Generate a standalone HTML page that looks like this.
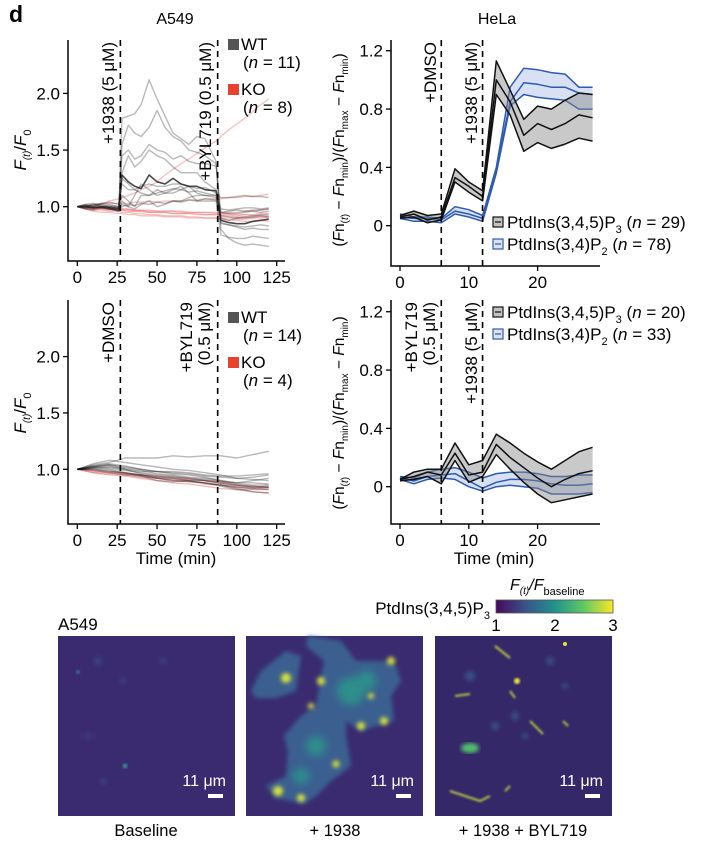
<!DOCTYPE html>
<html><head><meta charset="utf-8">
<style>
body{margin:0;background:#fff;}
svg{display:block;font-family:"Liberation Sans",Arial,sans-serif;}
</style></head>
<body>
<svg id="fig" width="702" height="842" viewBox="0 0 702 842" xmlns="http://www.w3.org/2000/svg">
<defs>
<linearGradient id="viridis" x1="0" x2="1" y1="0" y2="0">
<stop offset="0" stop-color="#46085c"/><stop offset="0.25" stop-color="#3b528b"/><stop offset="0.5" stop-color="#21918c"/><stop offset="0.75" stop-color="#5ec962"/><stop offset="1" stop-color="#fde725"/>
</linearGradient>
<filter id="blur2"><feGaussianBlur stdDeviation="2"/></filter>
<filter id="blur4"><feGaussianBlur stdDeviation="4"/></filter>
<filter id="blur1"><feGaussianBlur stdDeviation="1"/></filter>
</defs>
<text x="9" y="22" font-size="23" font-weight="bold">d</text>
<text x="175" y="24" font-size="16" text-anchor="middle">A549</text>
<text x="497" y="24" font-size="16" text-anchor="middle">HeLa</text>
<g id="charts"></g>

<text x="58" y="630" font-size="17">A549</text>
<text x="490" y="614" font-size="17" text-anchor="end">PtdIns(3,4,5)P<tspan font-size="11" dy="5">3</tspan></text>
<text x="510" y="590" font-size="16" font-style="italic">F<tspan font-size="10" dy="4" font-style="italic">(t)</tspan><tspan dy="-4">/</tspan>F<tspan font-size="11" dy="5" font-style="normal">baseline</tspan></text>
<rect x="496" y="600" width="117" height="13" fill="url(#viridis)" stroke="#555" stroke-width="0.8"/>
<text x="496" y="631" font-size="17" text-anchor="middle">1</text>
<text x="555" y="631" font-size="17" text-anchor="middle">2</text>
<text x="613" y="631" font-size="17" text-anchor="middle">3</text>

<g transform="translate(58,636)">
<rect width="177" height="180" fill="#3a2b70"/>
<g filter="url(#blur2)" fill="#3d4f8c" opacity="0.7">
<circle cx="40" cy="25" r="4"/><circle cx="105" cy="25" r="3"/><circle cx="65" cy="45" r="3"/><circle cx="30" cy="100" r="3"/><circle cx="45" cy="145" r="3"/>
</g>
<circle cx="67" cy="130" r="2.5" fill="#2f8f8c" filter="url(#blur1)"/>
<circle cx="20" cy="36" r="2" fill="#3b6e92" filter="url(#blur1)"/>
<text x="168" y="150" font-size="16" fill="#fff" text-anchor="end">11 μm</text>
<rect x="150" y="158" width="15" height="4" fill="#fff"/>
</g>
<text x="146" y="836" font-size="16.5" text-anchor="middle">Baseline</text>

<g transform="translate(246,636)">
<rect width="177" height="180" fill="#3a2b70"/>
<g filter="url(#blur2)">
<polygon fill="#3a6090" points="62,0 95,5 110,25 140,25 150,30 155,45 145,60 148,85 130,90 115,95 100,85 100,100 105,130 85,145 70,160 58,168 30,162 20,150 40,140 42,115 38,100 55,80 70,70 75,40 78,25 60,10"/>
<polygon fill="#3a6090" points="5,55 15,35 40,15 55,20 50,55 30,62 10,62"/>
</g>
<g filter="url(#blur4)" fill="#2a9a8a" opacity="0.8">
<circle cx="105" cy="55" r="14"/><circle cx="120" cy="45" r="10"/><circle cx="70" cy="110" r="10"/><circle cx="55" cy="140" r="8"/>
</g>
<g filter="url(#blur2)" fill="#d8e33a">
<circle cx="40" cy="42" r="5"/><circle cx="75" cy="45" r="4"/><circle cx="145" cy="25" r="4"/><circle cx="138" cy="85" r="4"/><circle cx="115" cy="90" r="4"/><circle cx="90" cy="128" r="3.5"/><circle cx="32" cy="155" r="5"/><circle cx="55" cy="162" r="4"/><circle cx="125" cy="60" r="3"/><circle cx="65" cy="70" r="3"/>
</g>
<text x="168" y="150" font-size="16" fill="#fff" text-anchor="end">11 μm</text>
<rect x="150" y="158" width="15" height="4" fill="#fff"/>
</g>
<text x="335" y="836" font-size="16.5" text-anchor="middle">+ 1938</text>

<g transform="translate(435,636)">
<rect width="177" height="180" fill="#352868"/>
<g filter="url(#blur2)" fill="#3b5a8e" opacity="0.8">
<circle cx="35" cy="40" r="5"/><circle cx="80" cy="80" r="4"/><circle cx="115" cy="25" r="4"/><circle cx="60" cy="90" r="4"/><circle cx="90" cy="100" r="3"/><circle cx="130" cy="50" r="3"/>
</g>
<g filter="url(#blur1)" stroke="#c8dc3a" stroke-width="1.8" fill="none">
<path d="M60,10 L75,22"/><path d="M20,60 L35,58"/><path d="M95,85 L108,98"/><path d="M15,155 L45,165 L55,160"/><path d="M70,155 L75,150"/><path d="M128,85 L133,90"/><path d="M75,55 L80,62"/>
</g>
<circle cx="82" cy="45" r="3" fill="#e8e436" filter="url(#blur1)"/>
<circle cx="130" cy="8" r="2" fill="#e8e436"/>
<ellipse cx="35" cy="112" rx="9" ry="5" fill="#4fbf6a" filter="url(#blur2)"/>
<text x="168" y="150" font-size="16" fill="#fff" text-anchor="end">11 μm</text>
<rect x="150" y="158" width="15" height="4" fill="#fff"/>
</g>
<text x="523" y="836" font-size="16.5" text-anchor="middle">+ 1938 + BYL719</text>
</svg>

<script>
const a549TopTimes = [0,5,10,15,20,26,28,32,36,40,45,50,55,60,65,70,75,80,87,90,95,100,105,110,115,120];
const a549TopWT = [
[1.0,1.01,0.99,1.0,0.98,0.97,1.78,1.8,1.82,1.9,2.12,1.95,1.8,1.65,1.6,1.55,1.62,1.6,1.4,0.8,0.72,0.68,0.66,0.67,0.66,0.65],
[1.0,1.02,1.03,1.01,1.0,0.99,1.55,1.72,1.65,1.62,1.7,1.85,1.7,1.62,1.58,1.5,1.48,1.45,1.38,0.86,0.84,0.83,0.82,0.83,0.84,0.83],
[1.0,1.0,1.02,1.03,1.02,1.0,1.45,1.5,1.42,1.45,1.55,1.5,1.48,1.42,1.45,1.4,1.38,1.38,1.36,0.95,0.96,0.97,0.96,0.97,0.97,0.98],
[1.0,0.99,0.98,1.0,0.99,0.96,1.3,1.45,1.35,1.4,1.5,1.45,1.42,1.35,1.3,1.3,1.3,1.22,1.15,0.9,0.88,0.9,0.91,0.92,0.93,0.93],
[1.0,1.02,1.01,1.03,1.04,1.02,1.2,1.15,1.15,1.18,1.2,1.18,1.18,1.2,1.2,1.18,1.16,1.17,1.12,1.08,1.08,1.09,1.1,1.09,1.09,1.08],
[1.0,1.01,1.0,0.99,1.0,0.99,1.1,1.05,1.0,1.1,1.1,1.15,1.12,1.12,1.15,1.18,1.12,1.1,1.1,0.98,0.97,0.98,0.99,0.99,0.98,0.99],
[1.0,0.98,0.97,0.99,0.98,0.96,1.05,1.0,1.1,1.2,1.15,1.1,1.12,1.15,1.18,1.12,1.05,1.05,1.05,0.75,0.73,0.72,0.72,0.74,0.73,0.72],
[1.0,1.0,1.02,1.0,1.01,1.0,1.02,1.0,0.98,1.02,1.05,1.0,1.02,1.05,1.05,1.08,1.1,1.1,1.08,0.95,0.94,0.94,0.95,0.96,0.95,0.96],
[1.0,1.01,1.0,1.02,1.0,0.99,1.0,1.02,1.01,1.03,1.02,1.04,1.03,1.05,1.04,1.06,1.05,1.07,1.06,0.92,0.91,0.9,0.9,0.91,0.92,0.91],
[1.0,0.99,1.0,0.99,0.98,0.97,1.25,1.2,1.15,1.12,1.1,1.12,1.14,1.16,1.15,1.13,1.14,1.12,1.1,0.85,0.84,0.82,0.8,0.81,0.8,0.8]
];
const a549TopWTMean = [1.0,1.0,0.99,1.0,0.99,0.98,1.28,1.22,1.18,1.16,1.28,1.22,1.2,1.25,1.2,1.18,1.18,1.15,1.14,0.88,0.86,0.85,0.85,0.87,0.88,0.89];
const a549TopKO = [
[1.0,0.99,1.0,1.02,1.05,1.07,1.08,1.1,1.12,1.15,1.18,1.22,1.28,1.33,1.38,1.42,1.47,1.52,1.58,1.62,1.68,1.73,1.78,1.84,1.9,1.95],
[1.0,0.99,0.98,0.99,0.98,0.98,0.97,0.97,0.96,0.96,0.95,0.95,0.95,0.94,0.94,0.94,0.94,0.93,0.93,0.92,0.92,0.91,0.91,0.9,0.91,0.9],
[1.0,0.98,0.97,0.97,0.96,0.96,0.95,0.95,0.94,0.94,0.93,0.93,0.92,0.92,0.92,0.91,0.91,0.9,0.9,0.89,0.88,0.88,0.87,0.87,0.88,0.87],
[1.0,1.0,1.01,1.02,1.03,1.03,1.03,1.03,1.04,1.04,1.05,1.04,1.05,1.05,1.05,1.06,1.06,1.07,1.07,1.07,1.08,1.08,1.09,1.09,1.1,1.11],
[1.0,0.99,0.98,0.98,0.97,0.97,0.98,0.98,0.97,0.97,0.96,0.96,0.96,0.96,0.95,0.95,0.95,0.95,0.94,0.94,0.94,0.93,0.93,0.92,0.92,0.92],
[1.0,0.98,0.96,0.95,0.95,0.94,0.94,0.93,0.93,0.92,0.92,0.92,0.91,0.91,0.91,0.9,0.9,0.9,0.9,0.9,0.9,0.89,0.89,0.9,0.9,0.91],
[1.0,0.99,0.99,0.98,0.98,0.97,0.97,0.96,0.96,0.96,0.95,0.95,0.95,0.94,0.94,0.94,0.93,0.93,0.93,0.93,0.93,0.92,0.93,0.93,0.94,0.94],
[1.0,1.0,0.99,0.99,0.99,0.98,0.98,0.98,0.97,0.97,0.97,0.96,0.96,0.96,0.96,0.95,0.95,0.95,0.95,0.94,0.95,0.95,0.96,0.96,0.97,0.98]
];
const a549BotTimes = [0,10,20,30,40,50,60,70,80,90,100,110,120];
const a549BotWT = [
[1.0,1.04,1.06,1.1,1.1,1.1,1.12,1.11,1.12,1.12,1.1,1.13,1.16],
[1.0,1.02,1.01,0.99,0.97,0.95,0.94,0.92,0.9,0.88,0.86,0.85,0.84],
[1.0,1.03,1.04,1.02,1.0,0.98,0.97,0.96,0.94,0.93,0.92,0.93,0.95],
[1.0,1.0,0.98,0.97,0.95,0.92,0.91,0.9,0.88,0.86,0.83,0.8,0.79],
[1.0,1.05,1.08,1.06,1.04,1.02,1.0,0.99,0.97,0.95,0.92,0.91,0.9],
[1.0,0.99,0.97,0.95,0.94,0.92,0.9,0.89,0.88,0.85,0.82,0.82,0.82],
[1.0,1.02,1.03,1.0,0.98,0.98,0.96,0.95,0.93,0.9,0.88,0.88,0.87],
[1.0,1.01,1.0,0.97,0.94,0.9,0.89,0.9,0.87,0.86,0.84,0.83,0.84],
[1.0,1.03,1.05,1.03,1.0,0.98,0.98,0.97,0.95,0.94,0.94,0.95,0.96],
[1.0,1.0,0.99,0.96,0.95,0.93,0.92,0.9,0.9,0.87,0.85,0.84,0.85],
[1.0,1.02,1.04,1.01,0.99,0.96,0.95,0.93,0.92,0.9,0.87,0.86,0.86],
[1.0,1.01,1.02,1.0,0.96,0.94,0.93,0.92,0.91,0.89,0.88,0.9,0.92]
];
const a549BotKO = [
[1.0,0.97,0.95,0.94,0.92,0.9,0.88,0.87,0.85,0.83,0.82,0.8,0.79],
[1.0,0.98,0.97,0.96,0.95,0.93,0.92,0.91,0.9,0.88,0.86,0.85,0.84],
[1.0,0.99,0.98,0.97,0.95,0.94,0.93,0.91,0.9,0.89,0.86,0.84,0.83],
[1.0,0.97,0.96,0.95,0.93,0.92,0.9,0.89,0.88,0.86,0.84,0.83,0.82]
];
const helaTimes = [0,2,4,6,8,10,12,14,16,18,20,22,24,26,28];
const helaTopPIP3Mean = [0.06,0.08,0.04,0.06,0.33,0.27,0.2,1.0,0.85,0.62,0.7,0.66,0.7,0.76,0.74];
const helaTopPIP3Lo   = [0.05,0.06,0.02,0.04,0.3,0.23,0.17,0.9,0.76,0.51,0.57,0.53,0.56,0.6,0.58];
const helaTopPIP3Hi   = [0.07,0.1,0.07,0.08,0.39,0.3,0.24,1.13,0.93,0.73,0.82,0.8,0.86,0.91,0.9];
const helaTopPIP2Mean = [0.06,0.05,0.05,0.04,0.1,0.08,0.05,0.38,0.85,0.98,0.97,0.95,0.95,0.91,0.9];
const helaTopPIP2Lo   = [0.05,0.03,0.03,0.02,0.08,0.06,0.03,0.36,0.82,0.9,0.88,0.87,0.86,0.8,0.8];
const helaTopPIP2Hi   = [0.08,0.06,0.06,0.05,0.13,0.11,0.07,0.4,0.95,1.08,1.07,1.05,1.04,0.95,0.95];
const helaBotPIP3Mean = [0.05,0.07,0.1,0.08,0.23,0.08,0.1,0.29,0.2,0.13,0.06,0.0,0.05,0.09,0.11];
const helaBotPIP3Lo   = [0.04,0.05,0.07,0.02,0.18,0.03,0.07,0.22,0.12,0.03,-0.05,-0.11,-0.09,-0.07,-0.05];
const helaBotPIP3Hi   = [0.05,0.1,0.12,0.12,0.3,0.15,0.18,0.36,0.3,0.23,0.17,0.12,0.18,0.24,0.27];
const helaBotPIP2Mean = [0.06,0.04,0.07,0.08,0.09,0.04,-0.01,0.03,0.05,0.05,0.04,0.02,0.01,0.01,0.02];
const helaBotPIP2Lo   = [0.05,0.02,0.05,0.06,0.05,0.0,-0.03,0.0,0.01,0.0,-0.01,-0.05,-0.05,-0.05,-0.04];
const helaBotPIP2Hi   = [0.07,0.06,0.1,0.12,0.13,0.1,0.06,0.09,0.1,0.1,0.09,0.07,0.07,0.08,0.08];
const a549XTicks = [0,25,50,75,100,125];
const a549YTicks = [1.0,1.5,2.0];
const a549YTickLabels = ["1.0","1.5","2.0"];
const helaXTicks = [0,10,20];
const helaYTicks = [0,0.4,0.8,1.2];
const helaYTickLabels = ["0","0.4","0.8","1.2"];

const NS = "http://www.w3.org/2000/svg";
const root = document.getElementById("charts");
function mk(tag, attrs, parent){
  const e = document.createElementNS(NS, tag);
  for (const k in attrs) e.setAttribute(k, attrs[k]);
  (parent || root).appendChild(e);
  return e;
}
function pathFrom(xs, ys, X, Y){
  return xs.map((t,i)=>(i?"L":"M")+X(t).toFixed(1)+","+Y(ys[i]).toFixed(1)).join(" ");
}
function band(xs, lo, hi, X, Y){
  let d = xs.map((t,i)=>(i?"L":"M")+X(t).toFixed(1)+","+Y(hi[i]).toFixed(1)).join(" ");
  for (let i=xs.length-1;i>=0;i--) d += " L"+X(xs[i]).toFixed(1)+","+Y(lo[i]).toFixed(1);
  return d+" Z";
}
function axes(g, x0, yTop, yBot, xEnd, X, Y, xt, yt, ytl){
  let a = mk("path",{d:`M${x0},${yTop} L${x0},${yBot} L${xEnd},${yBot}`,fill:"none",stroke:"#000","stroke-width":1.5},g);
  
  
  xt.forEach(t=>{
    const l = mk("line",{x1:X(t),x2:X(t),y1:yBot,y2:yBot+5,stroke:"#000","stroke-width":1.3},g);
    
    
    const tx = mk("text",{x:X(t),y:yBot+22,"font-size":17,"text-anchor":"middle"},g);
    
    
    tx.textContent = t;
  });
  yt.forEach((v,i)=>{
    const l = mk("line",{x1:x0-5,x2:x0,y1:Y(v),y2:Y(v),stroke:"#000","stroke-width":1.3},g);
    
    
    const tx = mk("text",{x:x0-8,y:Y(v)+6,"font-size":17,"text-anchor":"end"},g);
    
    
    tx.textContent = ytl[i];
  });
}
function dashed(g, x, y1, y2){
  const l = mk("line",{x1:x,x2:x,y1:y1,y2:y2,stroke:"#000","stroke-width":1.6,"stroke-dasharray":"6,5"},g);
  
  
}
function vlabel(g, x, yEnd, lines, name){
  const t = mk("text",{transform:`translate(${x},${yEnd}) rotate(-90)`,"font-size":17,"text-anchor":"end"},g);
  
  
  lines.forEach((s,i)=>{
    const ts = mk("tspan",{x:0,dy:i?18:0},t);
    ts.textContent = s;
  });
}
function a549YTitle(g, x, y){
  const t = mk("text",{transform:`translate(${x},${y}) rotate(-90)`,"font-size":17,"text-anchor":"middle","font-style":"italic"},g);
  
  
  t.innerHTML = 'F<tspan font-size="10" dy="4">(t)</tspan><tspan dy="-4" font-style="normal">/</tspan>F<tspan font-size="11" dy="5" font-style="normal">0</tspan>';
}
function helaYTitle(g, x, y){
  const t = mk("text",{transform:`translate(${x},${y}) rotate(-90)`,"font-size":15.5,"text-anchor":"middle"},g);
  
  
  t.innerHTML = '(<tspan font-style="italic">F</tspan>n<tspan font-size="10" dy="4">(<tspan font-style="italic">t</tspan>)</tspan><tspan dy="-4"> − </tspan><tspan font-style="italic">F</tspan>n<tspan font-size="10" dy="4">min</tspan><tspan dy="-4">)/(</tspan><tspan font-style="italic">F</tspan>n<tspan font-size="10" dy="4">max</tspan><tspan dy="-4"> − </tspan><tspan font-style="italic">F</tspan>n<tspan font-size="10" dy="4">min</tspan><tspan dy="-4">)</tspan>';
}
function legendA549(g, y0, nWT, nKO){
  const r1 = mk("rect",{x:228,y:y0,width:11,height:11,fill:"#555"},g);
  
  
  const t1 = mk("text",{x:241,y:y0+11,"font-size":17},g);
  
  
  t1.innerHTML = 'WT<tspan x="243" dy="18">(<tspan font-style="italic">n</tspan> = '+nWT+')</tspan>';
  const r2 = mk("rect",{x:228,y:y0+45,width:11,height:11,fill:"#e8412c"},g);
  
  
  const t2 = mk("text",{x:241,y:y0+56,"font-size":17},g);
  
  
  t2.innerHTML = 'KO<tspan x="243" dy="18">(<tspan font-style="italic">n</tspan> = '+nKO+')</tspan>';
}
function legendHela(g, y0, n3, n2){
  const items = [["#888","#111","PtdIns(3,4,5)P","3",n3,"legend-pip3"],["#b8c8e8","#2d5bb0","PtdIns(3,4)P","2",n2,"legend-pip2"]];
  items.forEach((it,i)=>{
    const y = y0 + i*22;
    const r = mk("rect",{x:493,y:y,width:10,height:10,fill:it[0],"fill-opacity":0.5,stroke:it[1],"stroke-width":1.2},g);
    
    
    const l = mk("line",{x1:495,x2:501,y1:y+5,y2:y+5,stroke:it[1],"stroke-width":1.2},g);
    
    
    const t = mk("text",{x:507,y:y+11,"font-size":17},g);
    
    
    t.innerHTML = it[2]+'<tspan font-size="11" dy="5">'+it[3]+'</tspan><tspan dy="-5"> (<tspan font-style="italic">n</tspan> = '+it[4]+')</tspan>';
  });
}
function drawTraces(g, xs, arr, X, Y, color, width, name){
  arr.forEach(s=>{
    const p = mk("path",{d:pathFrom(xs,s,X,Y),fill:"none",stroke:color,"stroke-width":width,"stroke-linejoin":"round"},g);
    
    
  });
}
function drawBand(g, xs, lo, hi, mean, X, Y, fill, stroke, w, name){
  const b = mk("path",{d:band(xs,lo,hi,X,Y),fill:fill,"fill-opacity":0.45,stroke:"none"},g);
  
  
  [lo,hi,mean].forEach(s=>{
    const p = mk("path",{d:pathFrom(xs,s,X,Y),fill:"none",stroke:stroke,"stroke-width":w,"stroke-linejoin":"round"},g);
    
    
  });
}

{
  const g = mk("g",{});
  
  
  const X = t=>77.3+t*1.595, Y = v=>206.7-(v-1)*113.3;
  drawTraces(g, a549TopTimes, a549TopKO, X, Y, "rgba(238,110,110,0.45)", 1.3, "ko-trace");
  drawTraces(g, a549TopTimes, a549TopWT, X, Y, "rgba(0,0,0,0.28)", 1.4, "wt-trace");
  drawTraces(g, a549TopTimes, [a549TopWTMean], X, Y, "rgba(40,40,40,0.85)", 1.6, "wt-trace-dark");
  dashed(g, X(27), 40, 261); dashed(g, X(88), 40, 261);
  axes(g, 68, 40, 261, 285, X, Y, a549XTicks, a549YTicks, a549YTickLabels);
  vlabel(g, 114, 42, ["+1938 (5 μM)"], "label-1938");
  vlabel(g, 211, 42, ["+BYL719 (0.5 μM)"], "label-byl719");
  a549YTitle(g, 26, 150);
  legendA549(g, 39, 11, 8);
}
{
  const g = mk("g",{});
  
  
  const X = t=>77.3+t*1.595, Y = v=>469.3-(v-1)*112.7;
  drawTraces(g, a549BotTimes, a549BotKO, X, Y, "rgba(238,110,110,0.5)", 1.3, "ko-trace");
  drawTraces(g, a549BotTimes, a549BotWT, X, Y, "rgba(0,0,0,0.28)", 1.4, "wt-trace");
  dashed(g, X(27), 300, 524); dashed(g, X(88), 300, 524);
  axes(g, 68, 300, 524, 285, X, Y, a549XTicks, a549YTicks, a549YTickLabels);
  vlabel(g, 114, 302, ["+DMSO"], "label-dmso");
  vlabel(g, 192, 302, ["+BYL719","(0.5 μM)"], "label-byl719");
  a549YTitle(g, 26, 413);
  legendA549(g, 312, 14, 4);
  const xt = mk("text",{x:176,y:564,"font-size":17,"text-anchor":"middle"},g);
  
  
  xt.textContent = "Time (min)";
}
{
  const g = mk("g",{});
  
  
  const X = t=>400+t*6.88, Y = v=>225.7-v*145.8;
  drawBand(g, helaTimes, helaTopPIP2Lo, helaTopPIP2Hi, helaTopPIP2Mean, X, Y, "#a8bde6", "#2d5bb0", 1.5, "pip2");
  drawBand(g, helaTimes, helaTopPIP3Lo, helaTopPIP3Hi, helaTopPIP3Mean, X, Y, "#888", "#111", 1.5, "pip3");
  dashed(g, X(6), 40, 266); dashed(g, X(12), 40, 266);
  axes(g, 391, 40, 266, 600, X, Y, helaXTicks, helaYTicks, helaYTickLabels);
  vlabel(g, 436, 42, ["+DMSO"], "label-dmso");
  vlabel(g, 477, 42, ["+1938 (5 μM)"], "label-1938");
  helaYTitle(g, 344, 150);
  legendHela(g, 217, 29, 78);
}
{
  const g = mk("g",{});
  
  
  const X = t=>400+t*6.88, Y = v=>486.7-v*145.8;
  drawBand(g, helaTimes, helaBotPIP2Lo, helaBotPIP2Hi, helaBotPIP2Mean, X, Y, "#a8bde6", "#2d5bb0", 1.5, "pip2");
  drawBand(g, helaTimes, helaBotPIP3Lo, helaBotPIP3Hi, helaBotPIP3Mean, X, Y, "#888", "#111", 1.5, "pip3");
  dashed(g, X(6), 300, 524); dashed(g, X(12), 300, 524);
  axes(g, 391, 300, 524, 600, X, Y, helaXTicks, helaYTicks, helaYTickLabels);
  vlabel(g, 417, 302, ["+BYL719","(0.5 μM)"], "label-byl719");
  vlabel(g, 477, 302, ["+1938 (5 μM)"], "label-1938");
  helaYTitle(g, 344, 413);
  legendHela(g, 307, 20, 33);
  const xt = mk("text",{x:494,y:564,"font-size":17,"text-anchor":"middle"},g);
  
  
  xt.textContent = "Time (min)";
}
</script>
</body></html>
